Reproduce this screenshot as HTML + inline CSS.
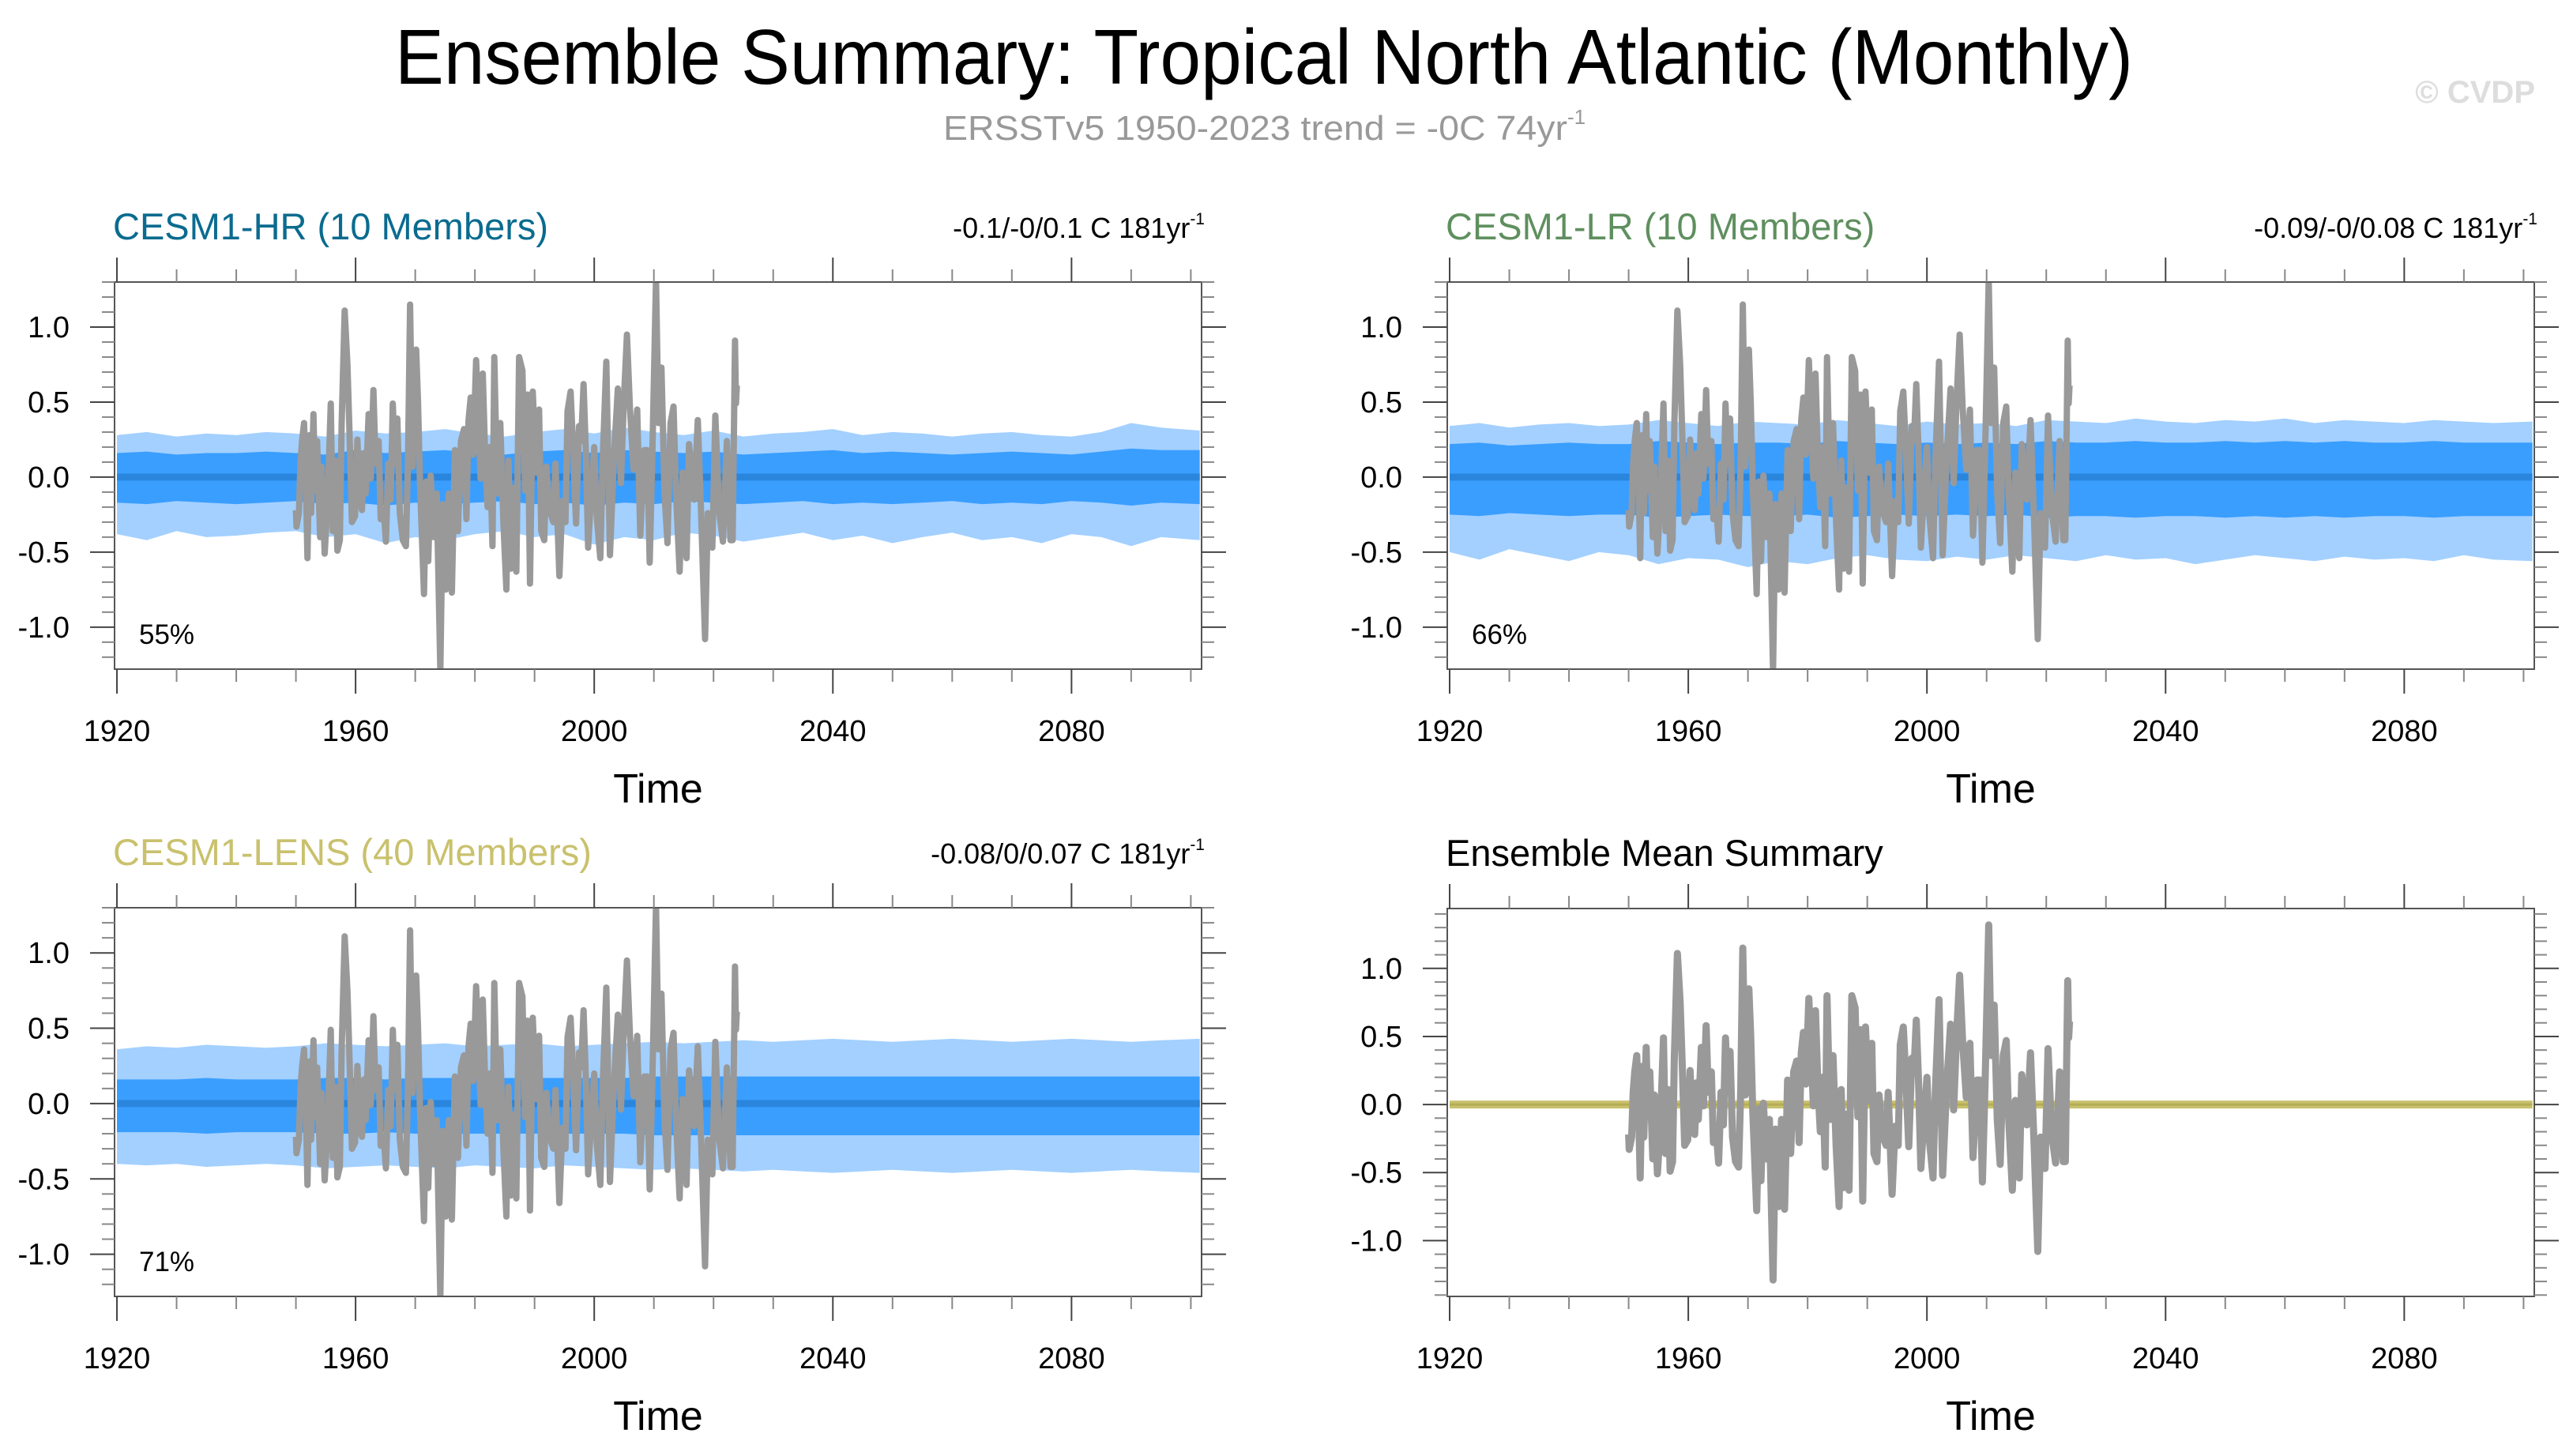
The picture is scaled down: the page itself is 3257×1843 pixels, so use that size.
<!DOCTYPE html>
<html><head><meta charset="utf-8"><style>
html,body{margin:0;padding:0;background:#fff;}
svg{display:block;font-family:"Liberation Sans",sans-serif;}
</style></head><body>
<svg id="chart" width="3257" height="1843" viewBox="0 0 3257 1843" xmlns="http://www.w3.org/2000/svg">
<rect width="3257" height="1843" fill="#fff"/>
<text x="1600" y="106" font-size="98" text-anchor="middle" textLength="2200" lengthAdjust="spacingAndGlyphs">Ensemble Summary: Tropical North Atlantic (Monthly)</text>
<text x="1194" y="177" font-size="44" fill="#999"><tspan textLength="790" lengthAdjust="spacingAndGlyphs">ERSSTv5 1950-2023 trend = -0C 74yr</tspan><tspan font-size="26" dy="-20">-1</tspan></text>
<text x="3209" y="130" font-size="40" fill="#ddd" font-weight="bold" text-anchor="end">© CVDP</text>
</svg>
<script>
// ---- data ----
const xTickYears = [1920,1960,2000,2040,2080];
const bandYears = [1920,1925,1930,1935,1940,1945,1950,1955,1960,1965,1970,1975,1980,1985,1990,1995,2000,2005,2010,2015,2020,2025,2030,2035,2040,2045,2050,2055,2060,2065,2070,2075,2080,2085,2090,2095,2100];
const hrLightUpper = [0.28,0.30,0.27,0.29,0.28,0.30,0.29,0.27,0.31,0.29,0.30,0.32,0.29,0.27,0.30,0.32,0.29,0.33,0.30,0.28,0.31,0.27,0.29,0.30,0.32,0.28,0.30,0.29,0.27,0.29,0.30,0.28,0.27,0.30,0.36,0.33,0.31];
const hrDarkUpper = [0.16,0.17,0.15,0.16,0.16,0.17,0.16,0.15,0.18,0.16,0.17,0.18,0.16,0.15,0.17,0.18,0.16,0.18,0.17,0.16,0.17,0.15,0.16,0.17,0.18,0.16,0.17,0.16,0.15,0.16,0.17,0.16,0.15,0.17,0.19,0.18,0.18];
const hrDarkLower = [-0.17,-0.18,-0.16,-0.17,-0.18,-0.17,-0.16,-0.18,-0.17,-0.19,-0.17,-0.18,-0.17,-0.16,-0.18,-0.17,-0.19,-0.17,-0.18,-0.16,-0.17,-0.18,-0.17,-0.16,-0.18,-0.17,-0.18,-0.17,-0.16,-0.18,-0.17,-0.18,-0.16,-0.17,-0.19,-0.17,-0.18];
const hrLightLower = [-0.38,-0.42,-0.36,-0.40,-0.39,-0.37,-0.36,-0.40,-0.38,-0.44,-0.40,-0.42,-0.38,-0.36,-0.40,-0.38,-0.45,-0.40,-0.42,-0.37,-0.39,-0.43,-0.40,-0.37,-0.42,-0.39,-0.44,-0.40,-0.37,-0.42,-0.40,-0.44,-0.38,-0.40,-0.46,-0.40,-0.42];
const lrLightUpper = [0.34,0.36,0.33,0.35,0.36,0.34,0.35,0.38,0.36,0.34,0.37,0.36,0.35,0.38,0.36,0.34,0.37,0.35,0.36,0.34,0.38,0.37,0.36,0.39,0.37,0.36,0.38,0.37,0.39,0.36,0.38,0.37,0.36,0.38,0.37,0.36,0.37];
const lrDarkUpper = [0.22,0.23,0.21,0.22,0.23,0.22,0.22,0.24,0.23,0.22,0.23,0.23,0.22,0.24,0.23,0.22,0.23,0.22,0.23,0.22,0.24,0.23,0.23,0.24,0.23,0.23,0.24,0.23,0.24,0.23,0.24,0.23,0.23,0.24,0.23,0.23,0.23];
const lrDarkLower = [-0.25,-0.26,-0.24,-0.25,-0.26,-0.25,-0.25,-0.27,-0.26,-0.25,-0.26,-0.26,-0.25,-0.27,-0.26,-0.25,-0.26,-0.25,-0.26,-0.25,-0.27,-0.26,-0.26,-0.27,-0.26,-0.26,-0.27,-0.26,-0.27,-0.26,-0.27,-0.26,-0.26,-0.27,-0.26,-0.26,-0.26];
const lrLightLower = [-0.50,-0.55,-0.48,-0.52,-0.56,-0.50,-0.52,-0.58,-0.54,-0.55,-0.60,-0.56,-0.58,-0.54,-0.52,-0.55,-0.56,-0.53,-0.55,-0.52,-0.54,-0.56,-0.52,-0.55,-0.54,-0.58,-0.55,-0.52,-0.54,-0.56,-0.53,-0.55,-0.54,-0.56,-0.52,-0.55,-0.56];
const lensLightUpper = [0.36,0.38,0.37,0.39,0.38,0.37,0.38,0.40,0.39,0.38,0.39,0.40,0.38,0.39,0.40,0.38,0.39,0.40,0.41,0.40,0.41,0.42,0.41,0.42,0.43,0.42,0.41,0.42,0.43,0.42,0.41,0.42,0.43,0.42,0.41,0.42,0.43];
const lensDarkUpper = [0.16,0.16,0.16,0.17,0.16,0.16,0.16,0.17,0.17,0.16,0.17,0.17,0.17,0.17,0.17,0.17,0.17,0.17,0.18,0.18,0.18,0.18,0.18,0.18,0.18,0.18,0.18,0.18,0.18,0.18,0.18,0.18,0.18,0.18,0.18,0.18,0.18];
const lensDarkLower = [-0.19,-0.19,-0.19,-0.20,-0.19,-0.19,-0.19,-0.20,-0.20,-0.19,-0.20,-0.20,-0.20,-0.20,-0.20,-0.20,-0.20,-0.20,-0.21,-0.21,-0.21,-0.21,-0.21,-0.21,-0.21,-0.21,-0.21,-0.21,-0.21,-0.21,-0.21,-0.21,-0.21,-0.21,-0.21,-0.21,-0.21];
const lensLightLower = [-0.40,-0.41,-0.40,-0.42,-0.41,-0.40,-0.41,-0.43,-0.42,-0.41,-0.42,-0.43,-0.41,-0.42,-0.43,-0.41,-0.42,-0.43,-0.44,-0.43,-0.44,-0.45,-0.44,-0.45,-0.46,-0.45,-0.44,-0.45,-0.46,-0.45,-0.44,-0.45,-0.46,-0.45,-0.44,-0.45,-0.46];
const obsYears = [1950.0,1950.1,1950.51,1950.76,1951.02,1951.37,1951.68,1951.93,1952.28,1952.54,1952.94,1953.2,1953.55,1954.06,1954.31,1954.82,1955.33,1955.84,1956.19,1956.6,1956.95,1957.36,1957.66,1958.17,1958.63,1958.98,1959.39,1959.9,1960.3,1960.66,1961.07,1961.42,1961.68,1962.18,1962.54,1962.99,1963.35,1963.86,1964.21,1964.72,1965.08,1965.48,1965.89,1966.24,1966.6,1967.01,1967.41,1967.92,1968.43,1968.78,1969.14,1969.54,1970.15,1970.46,1970.81,1971.47,1971.83,1972.18,1972.59,1973.1,1973.6,1974.21,1974.62,1975.13,1975.63,1976.14,1976.65,1977.16,1977.66,1978.17,1978.58,1978.93,1979.29,1979.7,1980.2,1980.61,1980.96,1981.32,1981.73,1982.13,1982.49,1982.94,1983.25,1983.76,1984.26,1984.77,1985.28,1985.63,1986.04,1986.55,1986.95,1987.41,1987.97,1988.43,1988.83,1989.24,1989.7,1990.25,1990.76,1991.12,1991.62,1991.98,1992.49,1993.15,1993.5,1994.16,1994.67,1995.18,1995.53,1996.04,1996.45,1996.95,1997.46,1997.82,1998.22,1998.58,1998.98,1999.49,2000.0,2000.41,2001.02,2001.42,2002.03,2002.64,2003.3,2003.96,2004.47,2004.97,2005.48,2005.99,2006.6,2007.21,2007.72,2008.38,2008.88,2009.29,2009.75,2010.36,2010.76,2011.27,2011.78,2012.28,2012.79,2013.3,2013.71,2014.31,2014.82,2015.48,2015.89,2016.75,2017.36,2017.92,2018.58,2019.04,2019.8,2020.3,2020.91,2021.57,2022.23,2022.84,2023.2,2023.6,2023.75,2023.9];
const obsValues = [-0.22,-0.33,-0.24,0.09,0.24,0.36,-0.07,-0.54,0.28,-0.24,0.42,-0.09,0.24,-0.40,0.07,-0.51,-0.15,0.49,-0.36,0.11,-0.49,-0.42,0.34,1.11,0.75,0.30,-0.30,-0.26,0.25,-0.11,-0.22,0.16,-0.11,0.42,-0.01,0.58,0.09,0.24,-0.28,-0.22,-0.43,0.09,-0.15,0.49,0.09,0.39,-0.24,-0.42,-0.46,0.09,1.15,0.07,0.85,0.51,-0.05,-0.78,-0.03,-0.56,0.01,-0.40,-0.11,-1.29,-0.18,-0.75,-0.11,-0.77,0.18,-0.36,0.24,0.32,-0.28,0.38,0.53,0.15,0.78,0.36,-0.01,0.69,0.13,-0.20,0.20,-0.46,0.80,-0.11,0.36,-0.30,-0.75,0.11,-0.61,-0.07,-0.63,0.80,0.71,-0.09,0.55,-0.71,0.57,0.03,0.45,-0.36,-0.42,0.07,-0.22,-0.30,0.09,-0.66,-0.16,-0.30,0.44,0.57,0.20,-0.31,0.34,0.24,0.62,0.18,-0.47,-0.11,0.20,-0.26,-0.54,0.11,0.77,-0.52,0.13,0.59,-0.04,0.51,0.95,0.46,0.05,0.45,-0.39,0.18,0.18,-0.57,0.16,1.32,0.36,0.73,-0.11,-0.44,0.36,0.47,-0.11,-0.63,0.03,-0.54,0.22,-0.15,0.38,-0.24,-1.08,-0.24,-0.47,0.41,-0.22,-0.43,0.24,-0.42,-0.42,0.91,0.49,0.61];

// ---- layout ----
const NS = "http://www.w3.org/2000/svg";
const svg = document.getElementById('chart');
function mk(tag, attrs, parent) {
  const e = document.createElementNS(NS, tag);
  for (const k in attrs) e.setAttribute(k, attrs[k]);
  (parent || svg).appendChild(e);
  return e;
}
const X0 = 1919.6, X1 = 2101.8;
const panels = [
  {id:'hr', x0:145, x1:1521, y0:357, y1:847, ymin:-1.28, ymax:1.30, title:'CESM1-HR (10 Members)', color:'#0a6b8f', trend:'-0.1/-0/0.1 C 181yr', pct:'55%', bands:[hrLightUpper,hrDarkUpper,hrDarkLower,hrLightLower]},
  {id:'lr', x0:1832, x1:3208, y0:357, y1:847, ymin:-1.28, ymax:1.30, title:'CESM1-LR (10 Members)', color:'#5f8f5f', trend:'-0.09/-0/0.08 C 181yr', pct:'66%', bands:[lrLightUpper,lrDarkUpper,lrDarkLower,lrLightLower]},
  {id:'lens', x0:145, x1:1521, y0:1149, y1:1641, ymin:-1.28, ymax:1.30, title:'CESM1-LENS (40 Members)', color:'#c9c16d', trend:'-0.08/0/0.07 C 181yr', pct:'71%', bands:[lensLightUpper,lensDarkUpper,lensDarkLower,lensLightLower]},
  {id:'mean', x0:1832, x1:3208, y0:1150, y1:1641, ymin:-1.41, ymax:1.44, title:'Ensemble Mean Summary', color:'#000', trend:null, pct:null, bands:null}
];

panels.forEach(p => {
  const sx = v => p.x0 + (v - X0) / (X1 - X0) * (p.x1 - p.x0);
  const sy = v => p.y1 - (v - p.ymin) / (p.ymax - p.ymin) * (p.y1 - p.y0);
  // band x: stretch end samples to the data extent edges
  const bx = (i) => i === 0 ? sx(1920) : (i === bandYears.length - 1 ? sx(2101.5) : sx(bandYears[i]));
  const g = mk('g', {});
  
  
  const cp = mk('clipPath', {id:'clip-' + p.id}, g);
  mk('rect', {x:p.x0, y:p.y0, width:p.x1 - p.x0, height:p.y1 - p.y0}, cp);
  const plot = mk('g', {'clip-path':'url(#clip-' + p.id + ')'}, g);

  if (p.bands) {
    const [lu, du, dl, ll] = p.bands;
    const area = (up, lo) => {
      let d = '';
      bandYears.forEach((yr, i) => { d += (i ? 'L' : 'M') + bx(i).toFixed(1) + ',' + sy(up[i]).toFixed(1); });
      for (let i = bandYears.length - 1; i >= 0; i--) d += 'L' + bx(i).toFixed(1) + ',' + sy(lo[i]).toFixed(1);
      return d + 'Z';
    };
    const light = mk('path', {d:area(lu, ll), fill:'#a3d0ff'}, plot);
    
    
    const dark = mk('path', {d:area(du, dl), fill:'#3a9eff'}, plot);
    
    
    const ml = mk('line', {x1:sx(1920), x2:sx(2101.5), y1:sy(0), y2:sy(0), stroke:'#2a86dd', 'stroke-width':9}, plot);
    
    
  } else {
    const ml = mk('line', {x1:sx(1920), x2:sx(2101.5), y1:sy(0), y2:sy(0), stroke:'#c9c16d', 'stroke-width':10}, plot);
    
    
    mk('line', {x1:sx(1920), x2:sx(2101.5), y1:sy(0), y2:sy(0), stroke:'#b5ad55', 'stroke-width':3}, plot);
  }
  let d = '';
  obsYears.forEach((yr, i) => { d += (i ? 'L' : 'M') + sx(yr).toFixed(1) + ',' + sy(obsValues[i]).toFixed(1); });
  const obs = mk('path', {d:d, fill:'none', stroke:'#999', 'stroke-width':p.bands ? 8 : 9, 'stroke-linejoin':'round'}, plot);
  
  

  const fr = mk('rect', {x:p.x0, y:p.y0, width:p.x1 - p.x0, height:p.y1 - p.y0, fill:'none', stroke:'#555', 'stroke-width':2}, g);
  
  

  for (let yr = 1920; yr <= 2100; yr += 10) {
    const major = (yr - 1920) % 40 === 0;
    const L = major ? 31 : 16;
    const x = sx(yr);
    mk('line', {x1:x, x2:x, y1:p.y0, y2:p.y0 - L, stroke:major ? '#444' : '#888', 'stroke-width':2}, g);
    mk('line', {x1:x, x2:x, y1:p.y1, y2:p.y1 + L, stroke:major ? '#444' : '#888', 'stroke-width':2}, g);
  }
  xTickYears.forEach(yr => {
    const t = mk('text', {x:sx(yr), y:p.y1 + 91, 'font-size':38, 'text-anchor':'middle'}, g);
    t.textContent = yr;
    
    
  });
  for (let k = Math.ceil(p.ymin * 10); k <= Math.floor(p.ymax * 10); k++) {
    const v = k / 10, major = k % 5 === 0;
    const L = major ? 31 : 16, y = sy(v);
    mk('line', {x1:p.x0, x2:p.x0 - L, y1:y, y2:y, stroke:major ? '#444' : '#888', 'stroke-width':2}, g);
    mk('line', {x1:p.x1, x2:p.x1 + L, y1:y, y2:y, stroke:major ? '#444' : '#888', 'stroke-width':2}, g);
    if (major) {
      const t = mk('text', {x:p.x0 - 57, y:y + 13, 'font-size':38, 'text-anchor':'end'}, g);
      t.textContent = v.toFixed(1);
      
      
    }
  }
  const xt = mk('text', {x:(p.x0 + p.x1) / 2, y:p.y1 + 169, 'font-size':52, 'text-anchor':'middle'}, g);
  xt.textContent = 'Time';
  
  

  const tt = mk('text', {x:p.x0 - 2, y:p.y0 - 54, 'font-size':47, fill:p.color}, g);
  tt.textContent = p.title;
  
  
  if (p.trend) {
    const tr = mk('text', {x:p.x1 + 4, y:p.y0 - 56, 'font-size':36, 'text-anchor':'end'}, g);
    const a = mk('tspan', {}, tr); a.textContent = p.trend;
    const b = mk('tspan', {'font-size':21, dy:-17}, tr); b.textContent = '-1';
    
    
    const pc = mk('text', {x:p.x0 + 31, y:p.y1 - 32, 'font-size':35}, g);
    pc.textContent = p.pct;
    
    
  }
});
</script>
</body></html>
